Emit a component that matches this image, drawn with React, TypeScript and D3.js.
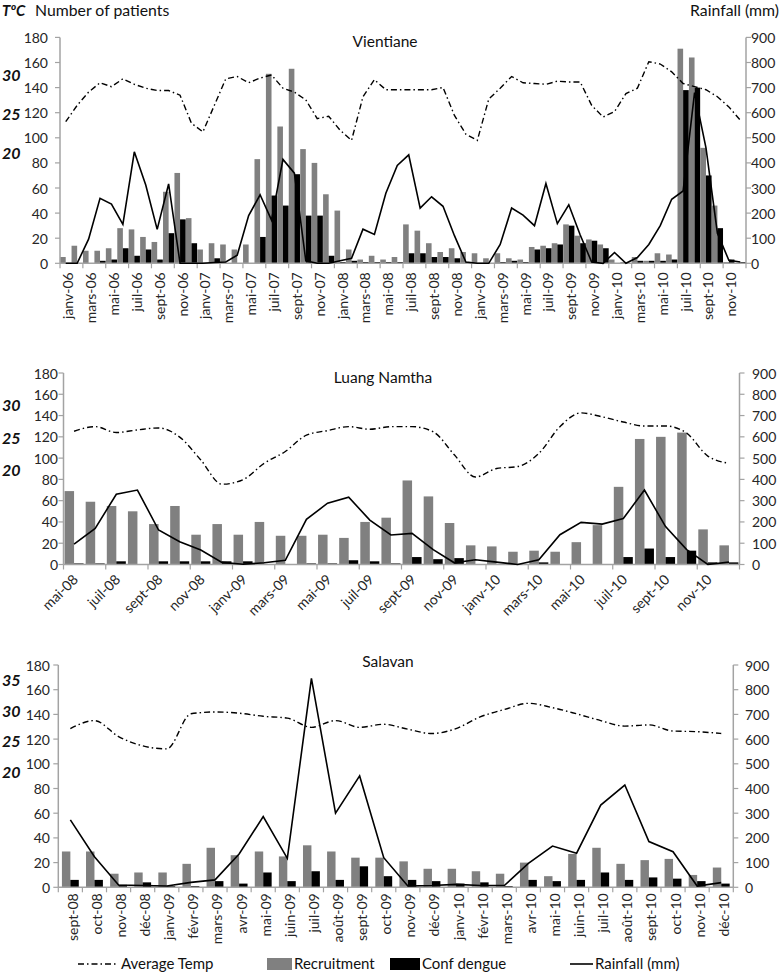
import React from "react";
import * as d3 from "d3";

// ---------- categories ----------
const MONTHS = ["janv", "févr", "mars", "avr", "mai", "juin", "juil", "août", "sept", "oct", "nov", "déc"];
const monthLabels = (startYear: number, startMonth: number, count: number) =>
  Array.from({ length: count }, (_, k) => {
    const m = (startMonth + k) % 12;
    const y = startYear + Math.floor((startMonth + k) / 12);
    return `${MONTHS[m]}-${String(y % 100).padStart(2, "0")}`;
  });

const vientianeMonths = monthLabels(2006, 0, 60);
const luangMonths = monthLabels(2008, 4, 32);
const salavanMonths = monthLabels(2008, 8, 28);

const patientTicks = [0, 20, 40, 60, 80, 100, 120, 140, 160, 180];
const rainTicks = [0, 100, 200, 300, 400, 500, 600, 700, 800, 900];

// ---------- Vientiane ----------
const vientianeRecruit = [
  5, 14, 10, 10, 12, 28, 27, 21, 17, 57, 72, 36,
  11, 16, 15, 11, 15, 83, 151, 109, 155, 91, 80, 55,
  42, 11, 3, 6, 3, 5, 31, 26, 16, 9, 12, 9,
  8, 4, 8, 4, 3, 13, 14, 16, 31, 22, 19, 15,
  3, 1, 5, 2, 8, 7, 171, 164, 92, 46, 1, 0,
];
const vientianeDengue = [
  0, 0, 0, 2, 3, 12, 6, 11, 3, 24, 35, 16,
  0, 4, 0, 0, 0, 21, 54, 46, 71, 38, 38, 6,
  1, 2, 1, 1, 1, 1, 8, 8, 5, 5, 4, 1,
  0, 0, 1, 2, 1, 11, 12, 15, 30, 16, 18, 12,
  0, 0, 2, 2, 2, 3, 138, 140, 70, 28, 3, 1,
];
const vientianeRain = [
  0, 0, 96, 259, 236, 155, 444, 312, 135, 316, 0, 0,
  0, 3, 5, 32, 190, 273, 172, 414, 359, 10, 0, 0,
  10, 20, 136, 115, 279, 390, 432, 220, 265, 227, 110, 5,
  0, 0, 75, 220, 192, 150, 318, 158, 233, 113, 5, 0,
  43, 0, 23, 75, 150, 255, 288, 680, 460, 120, 12, 5,
];
const vientianeTemp = [
  23.9, 26.0, 27.7, 28.9, 28.4, 29.4, 28.7, 28.2, 27.9, 27.9, 27.3, 23.7,
  22.6, 26.0, 29.4, 29.7, 28.9, 29.5, 29.9, 28.2, 27.7, 26.7, 24.3, 24.6,
  22.8, 21.5, 27.1, 29.3, 28.0, 28.0, 28.0, 28.0, 28.0, 28.3, 24.7, 22.3,
  21.5, 26.8, 28.2, 29.7, 28.9, 28.8, 28.7, 29.1, 29.0, 29.0, 26.0, 24.5,
  25.2, 27.5, 28.2, 31.6, 31.3, 30.3, 28.8, 28.4, 28.0, 27.1, 25.8, 24.1,
];

// ---------- Luang Namtha ----------
const luangRecruit = [
  69, 59, 55, 50, 38, 55, 28, 38, 28, 40, 27, 27, 28, 25, 40, 44,
  79, 64, 39, 18, 17, 12, 13, 12, 21, 37, 73, 118, 120, 124, 33, 18,
];
const luangDengue = [
  1, 1, 3, 0, 3, 3, 3, 3, 3, 0, 0, 1, 1, 4, 3, 1,
  7, 5, 6, 0, 0, 0, 2, 0, 0, 0, 7, 15, 7, 13, 2, 2,
];
const luangRain = [
  96, 170, 330, 350, 162, 107, 68, 10, 1, 8, 20, 212, 288, 316, 209, 139,
  146, 70, 8, 22, 11, 0, 22, 140, 198, 190, 216, 350, 178, 70, 0, 11,
];
const luangTemp = [
  25.9, 26.6, 25.7, 26.1, 26.4, 25.0, 21.5, 17.8, 18.5, 21.0, 22.8, 25.3, 26.0, 26.6, 26.2, 26.6,
  26.6, 25.8, 22.3, 18.9, 20.2, 20.5, 22.5, 26.6, 28.7, 28.1, 27.3, 26.7, 26.7, 25.6, 22.1, 21.0,
];

// ---------- Salavan ----------
const salavanRecruit = [
  29, 29, 11, 12, 12, 19, 32, 26, 29, 25, 34, 29, 24, 24,
  21, 15, 15, 13, 11, 20, 9, 27, 32, 19, 22, 23, 10, 16,
];
const salavanDengue = [
  6, 6, 2, 4, 1, 1, 5, 3, 12, 5, 13, 6, 17, 9,
  6, 5, 3, 4, 1, 6, 5, 6, 12, 6, 8, 7, 5, 3,
];
const salavanRain = [
  273, 124, 9, 7, 5, 20, 30, 135, 286, 117, 846, 300, 451, 120,
  5, 7, 12, 7, 7, 97, 167, 138, 333, 414, 185, 144, 5, 19,
];
const salavanTemp = [
  27.0, 28.3, 25.7, 24.2, 23.7, 29.4, 29.7, 29.5, 29.0, 28.7, 27.2, 28.3, 27.2, 27.7,
  26.9, 26.2, 27.0, 28.9, 30.1, 31.1, 30.4, 29.4, 28.3, 27.4, 27.6, 26.6, 26.5, 26.2,
];

const FONT = "Lato, 'Open Sans', sans-serif";
const AXIS = "#a3a3a3";
const TXT = "#262626";
const GREY = "#808080";
const DASHDOT = "6,3,1.5,3";

type PanelProps = {
  title: string;
  titleX: number;
  titleY: number;
  months: string[];
  recruit: number[];
  dengue: number[];
  rain: number[];
  temp: number[];
  x0: number;
  x1: number;
  yTop: number;
  yBase: number;
  tempDomain: [number, number];
  tempUnits: [number, number];
  tempTicks: number[];
  labelEvery: number;
  labelAngle: number;
  labelDy: number;
  labelDx: number;
  groupFrac: number;
  smoothTemp: boolean;
  leftLabelX: number;
  rightLabelX: number;
};

function Panel(p: PanelProps) {
  const idx = p.months.map((_, i) => i);
  const x = d3.scaleBand<number>().domain(idx).range([p.x0, p.x1]).padding(0);
  const cw = x.bandwidth();
  const y = d3.scaleLinear().domain([0, 180]).range([p.yBase, p.yTop]);
  const yR = d3.scaleLinear().domain([0, 900]).range([p.yBase, p.yTop]);
  const tUnits = d3.scaleLinear().domain(p.tempDomain).range(p.tempUnits);
  const barW = (cw * p.groupFrac) / 2;
  const off = (cw * (1 - p.groupFrac)) / 2;
  const cx = (i: number) => (x(i) as number) + cw / 2;

  const rainPath = d3
    .line<number>()
    .x((_, i) => cx(i))
    .y((d) => yR(d))(p.rain) as string;
  const tempPath = d3
    .line<number>()
    .x((_, i) => cx(i))
    .y((d) => y(tUnits(d)))
    .curve(p.smoothTemp ? d3.curveMonotoneX : d3.curveLinear)(p.temp) as string;

  const nTicks = Math.floor(p.months.length / p.labelEvery);
  const xTicks = d3.range(0, nTicks + 1).map((k) => p.x0 + k * p.labelEvery * cw);

  return (
    <g fontFamily={FONT}>
      {p.recruit.map((v, i) => (
        <rect key={"r" + i} x={(x(i) as number) + off} y={y(v)} width={barW} height={p.yBase - y(v)} fill={GREY} />
      ))}
      {p.dengue.map((v, i) => (
        <rect key={"d" + i} x={(x(i) as number) + off + barW} y={y(v)} width={barW} height={p.yBase - y(v)} fill="#000" />
      ))}
      <line x1={p.x0} x2={p.x0} y1={p.yTop} y2={p.yBase} stroke={AXIS} strokeWidth={1.5} />
      <line x1={p.x1} x2={p.x1} y1={p.yTop} y2={p.yBase} stroke={AXIS} strokeWidth={1.5} />
      <line x1={p.x0} x2={p.x1} y1={p.yBase} y2={p.yBase} stroke={AXIS} strokeWidth={1.5} />
      {patientTicks.map((t) => (
        <g key={"pt" + t}>
          <line x1={p.x0 - 5} x2={p.x0} y1={y(t)} y2={y(t)} stroke={AXIS} strokeWidth={1.2} />
          <text x={p.leftLabelX} y={y(t)} textAnchor="end" dominantBaseline="central" fontSize={14} fill={TXT}>
            {t}
          </text>
        </g>
      ))}
      {rainTicks.map((t) => (
        <g key={"rt" + t}>
          <line x1={p.x1} x2={p.x1 + 5} y1={yR(t)} y2={yR(t)} stroke={AXIS} strokeWidth={1.2} />
          <text x={p.rightLabelX} y={yR(t)} textAnchor="start" dominantBaseline="central" fontSize={14} fill={TXT}>
            {t}
          </text>
        </g>
      ))}
      {xTicks.map((tx, k) => (
        <line key={"xt" + k} x1={tx} x2={tx} y1={p.yBase} y2={p.yBase + 5} stroke={AXIS} strokeWidth={1.2} />
      ))}
      {p.months.map((m, i) =>
        i % p.labelEvery === 0 ? (
          <text
            key={"xl" + i}
            transform={`translate(${cx(i) + p.labelDx},${p.yBase + p.labelDy}) rotate(${p.labelAngle})`}
            textAnchor="end"
            dominantBaseline="central"
            fontSize={14}
            fill={TXT}
          >
            {m}
          </text>
        ) : null
      )}
      {p.tempTicks.map((t) => (
        <text
          key={"tt" + t}
          x={2}
          y={y(tUnits(t))}
          dominantBaseline="central"
          fontSize={16}
          fontWeight="bold"
          fontStyle="italic"
          fill="#111"
        >
          {t}
        </text>
      ))}
      <path d={tempPath} fill="none" stroke="#000" strokeWidth={1.4} strokeDasharray={DASHDOT} />
      <path d={rainPath} fill="none" stroke="#000" strokeWidth={1.6} />
      <text x={p.titleX} y={p.titleY} textAnchor="middle" fontSize={15.5} fill="#111">
        {p.title}
      </text>
    </g>
  );
}

export default function App() {
  return (
    <svg
      width={781}
      height={974}
      style={{ position: "absolute", left: 0, top: 0, background: "#fff" }}
      fontFamily={FONT}
    >
      <rect x={0} y={0} width={781} height={974} fill="#fff" />
      <text x={2} y={16} fontSize={15} fontWeight="bold" fontStyle="italic" fill="#111">
        TºC
      </text>
      <text x={35} y={16} fontSize={15.8} fill="#111">
        Number of patients
      </text>
      <text x={779} y={16} fontSize={15.8} textAnchor="end" fill="#111">
        Rainfall (mm)
      </text>

      <Panel
        title="Vientiane"
        titleX={385}
        titleY={47}
        months={vientianeMonths}
        recruit={vientianeRecruit}
        dengue={vientianeDengue}
        rain={vientianeRain}
        temp={vientianeTemp}
        x0={60}
        x1={746}
        yTop={37.4}
        yBase={263.3}
        tempDomain={[20, 30]}
        tempUnits={[88.6, 150.7]}
        tempTicks={[30, 25, 20]}
        labelEvery={2}
        labelAngle={-90}
        labelDy={9}
        labelDx={2}
        groupFrac={0.98}
        smoothTemp={false}
        leftLabelX={48}
        rightLabelX={751}
      />
      <Panel
        title="Luang Namtha"
        titleX={383}
        titleY={383}
        months={luangMonths}
        recruit={luangRecruit}
        dengue={luangDengue}
        rain={luangRain}
        temp={luangTemp}
        x0={63.5}
        x1={739.5}
        yTop={373}
        yBase={564.5}
        tempDomain={[20, 30]}
        tempUnits={[89, 150.5]}
        tempTicks={[30, 25, 20]}
        labelEvery={2}
        labelAngle={-45}
        labelDy={12}
        labelDx={1}
        groupFrac={0.9}
        smoothTemp={true}
        leftLabelX={58}
        rightLabelX={752}
      />
      <Panel
        title="Salavan"
        titleX={388}
        titleY={667}
        months={salavanMonths}
        recruit={salavanRecruit}
        dengue={salavanDengue}
        rain={salavanRain}
        temp={salavanTemp}
        x0={58.3}
        x1={733.3}
        yTop={665}
        yBase={887.3}
        tempDomain={[20, 35]}
        tempUnits={[93.6, 168.4]}
        tempTicks={[35, 30, 25, 20]}
        labelEvery={1}
        labelAngle={-90}
        labelDy={6}
        labelDx={2}
        groupFrac={0.7}
        smoothTemp={true}
        leftLabelX={50}
        rightLabelX={745}
      />

      <g fontFamily={FONT} fontSize={15} fill="#111">
        <line x1={78} x2={118} y1={964} y2={964} stroke="#000" strokeWidth={1.4} strokeDasharray={DASHDOT} />
        <text x={121} y={969}>Average Temp</text>
        <rect x={267} y={958} width={25} height={12} fill={GREY} />
        <text x={294} y={969}>Recruitment</text>
        <rect x={390} y={958} width={30} height={12} fill="#000" />
        <text x={422} y={969}>Conf dengue</text>
        <line x1={570} x2={593} y1={964} y2={964} stroke="#000" strokeWidth={1.6} />
        <text x={595} y={969}>Rainfall (mm)</text>
      </g>
    </svg>
  );
}
